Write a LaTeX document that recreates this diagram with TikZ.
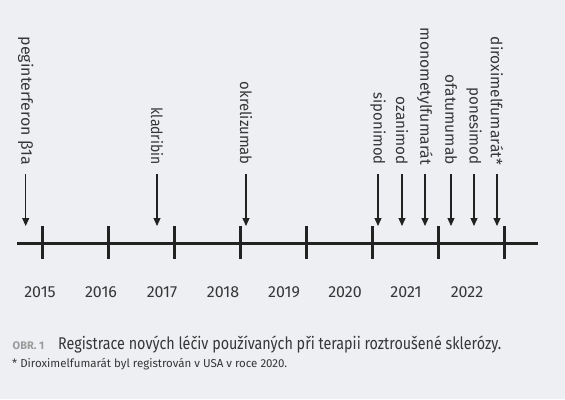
\documentclass[tikz,border=0pt]{standalone}
\usepackage{fontspec}
\setmainfont[Numbers=Lining]{Fira Sans}
\usetikzlibrary{arrows.meta}
\definecolor{bg}{HTML}{EEEFF3}
\definecolor{ink}{HTML}{222222}
\definecolor{txt}{HTML}{363636}
\definecolor{obr}{HTML}{9A9A9A}
\tikzset{
  axisline/.style={draw=ink, line width=3pt},
  tickmark/.style={draw=ink, line width=3pt},
  drugarrow/.style={draw=ink, line width=1.1pt, -{Triangle[width=7pt,length=8pt]}},
  druglabel/.style={rotate=-90, anchor=east, inner sep=0pt, text=txt, font=\fontsize{15.5pt}{18pt}\selectfont},
  yearlabel/.style={anchor=base, inner sep=0pt, text=txt, font=\fontsize{16pt}{18pt}\selectfont},
}
\begin{document}
\begin{tikzpicture}[x=1pt,y=-1pt]
\fill[bg] (0,0) rectangle (565,399);
\useasboundingbox (0,0) rectangle (565,399);
% axis
\coordinate (L) at (17,243);
\coordinate (R) at (538,243);
\draw[axisline] (L) -- (R);
\foreach \i/\x in {0/42,1/108,2/174,3/240,4/306,5/372,6/438,7/504}{
  \coordinate (t\i a) at (\x,226);
  \coordinate (t\i b) at (\x,259);
  \draw[tickmark] (t\i a) -- (t\i b);
}
% years
\foreach \y/\x in {2015/40,2016/101,2017/162,2018/223,2019/284,2020/345,2021/406,2022/467}{
  \node[yearlabel] (y\y) at (\x,297) {\y};
}
% drugs
\foreach \n/\x/\w/\t in {a/25.7/128/{peginterferon β1a},b/157/57/kladribin,c/246/83/okrelizumab,d/378/72/siponimod,e/402/68/ozanimod,f/425/137/monometylfumarát,g/451/90/ofatumumab,h/474/77/ponesimod,i/497/128/{diroximelfumarát*}}{
  \node[druglabel] (l\n) at (\x,165) {\resizebox{\w pt}{\height}{\t}};
  \coordinate (s\n) at (\x,174);
  \coordinate (e\n) at (\x,226);
  \draw[drugarrow] (s\n) -- (e\n);
}
% caption
\node[anchor=base west, inner sep=0pt, text=obr, font=\fontsize{11pt}{13pt}\selectfont\bfseries] (obr) at (12.5,349) {OBR. 1};
\node[anchor=base west, inner sep=0pt, text=txt, font=\fontsize{17pt}{20pt}\selectfont] (cap) at (58,349) {\resizebox{443pt}{\height}{Registrace nových léčiv používaných při terapii roztroušené sklerózy.}};
\node[anchor=base west, inner sep=0pt, text=txt, font=\fontsize{11.5pt}{14pt}\selectfont] (fn) at (12,367) {\resizebox{275pt}{\height}{* Diroximelfumarát byl registrován v USA v roce 2020.}};
\end{tikzpicture}
\end{document}
